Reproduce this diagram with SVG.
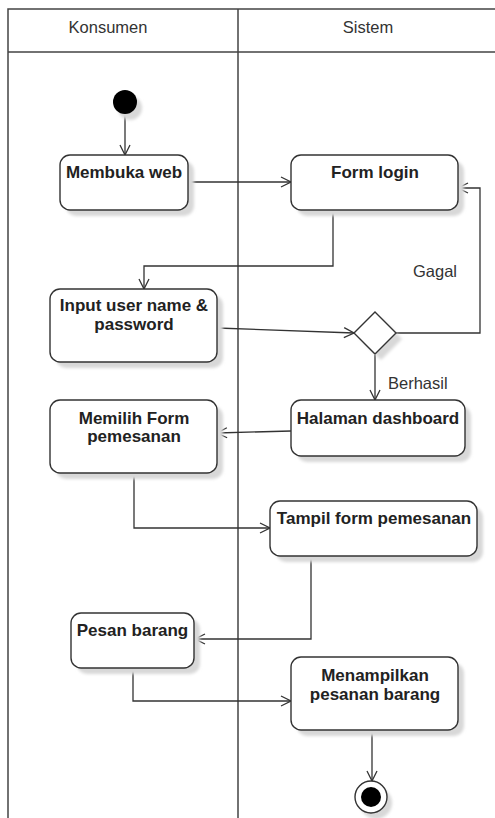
<svg xmlns="http://www.w3.org/2000/svg" width="495" height="818" viewBox="0 0 495 818">
  <defs>
    <marker id="open" viewBox="0 0 12 12" refX="11" refY="6" markerWidth="12" markerHeight="12" markerUnits="userSpaceOnUse" orient="auto">
      <path d="M1,1 L11,6 L1,11" fill="none" stroke="#333" stroke-width="1.3"/>
    </marker>
    <filter id="soft" x="-20%" y="-20%" width="140%" height="140%">
      <feGaussianBlur stdDeviation="1.5"/>
    </filter>
  </defs>
  <style>
    .lane { fill: none; stroke: #444; stroke-width: 1.5; }
    .head { font-family: "Liberation Sans", Arial, sans-serif; font-size: 16.5px; fill: #333; text-anchor: middle; }
    .box { fill: #fff; stroke: #333; stroke-width: 1.4; }
    .shadow { fill: #d8d8d8; filter: url(#soft); }
    .lbl { font-family: "Liberation Sans", Arial, sans-serif; font-size: 17px; font-weight: bold; fill: #222; text-anchor: middle; }
    .guard { font-family: "Liberation Sans", Arial, sans-serif; font-size: 16.5px; fill: #333; }
    .edge { fill: none; stroke: #333; stroke-width: 1.3; marker-end: url(#open); }
  </style>
  <rect width="495" height="818" fill="#fff"/>

  <!-- swimlanes -->
  <g id="lanes">
    <path class="lane" d="M495,9 H8 V818 M8,52 H495 M238,9 V818"/>
    <text class="head" x="108" y="33">Konsumen</text>
    <text class="head" x="368" y="33">Sistem</text>
  </g>

  <!-- connectors -->
  <g id="connectors">
    <path class="edge" d="M125,114 V155"/>
    <path class="edge" d="M188,182 H291"/>
    <path class="edge" d="M333,210 V266 H144 V289"/>
    <path class="edge" d="M217,328 L354,333"/>
    <path class="edge" d="M396,333 H480 V188 H458"/>
    <path class="edge" d="M375,355 V400"/>
    <path class="edge" d="M291,431 L217,433"/>
    <path class="edge" d="M134,473 V528 H270"/>
    <path class="edge" d="M311,556 V639 H195"/>
    <path class="edge" d="M133,668 V701 H291"/>
    <path class="edge" d="M372,730 V781"/>
    <text class="guard" x="413" y="277">Gagal</text>
    <text class="guard" x="388" y="389">Berhasil</text>
  </g>

  <!-- start -->
  <g id="start">
    <circle cx="130" cy="108" r="12" class="shadow"/>
    <circle cx="125" cy="102" r="12" fill="#000"/>
  </g>

  <g id="membuka-web">
    <rect class="shadow" x="66" y="161" width="128" height="55" rx="10"/>
    <rect class="box" x="60" y="155" width="128" height="55" rx="10"/>
    <text class="lbl" x="124" y="178">Membuka web</text>
  </g>

  <g id="form-login">
    <rect class="shadow" x="297" y="161" width="167" height="55" rx="10"/>
    <rect class="box" x="291" y="155" width="167" height="55" rx="10"/>
    <text class="lbl" x="375" y="178">Form login</text>
  </g>

  <g id="input-login">
    <rect class="shadow" x="56" y="295" width="167" height="73" rx="10"/>
    <rect class="box" x="50" y="289" width="167" height="73" rx="10"/>
    <text class="lbl" x="134" y="311">Input user name &amp;</text>
    <text class="lbl" x="134" y="330">password</text>
  </g>

  <g id="decision">
    <path class="shadow" d="M381,318 L402,339 L381,360 L360,339 Z"/>
    <path class="box" d="M375,312 L396,333 L375,354 L354,333 Z"/>
  </g>

  <g id="halaman-dashboard">
    <rect class="shadow" x="297" y="406" width="174" height="56" rx="10"/>
    <rect class="box" x="291" y="400" width="174" height="56" rx="10"/>
    <text class="lbl" x="378" y="424">Halaman dashboard</text>
  </g>

  <g id="memilih-form">
    <rect class="shadow" x="56" y="406" width="167" height="73" rx="10"/>
    <rect class="box" x="50" y="400" width="167" height="73" rx="10"/>
    <text class="lbl" x="134" y="424">Memilih Form</text>
    <text class="lbl" x="134" y="442">pemesanan</text>
  </g>

  <g id="tampil-form">
    <rect class="shadow" x="276" y="507" width="207" height="55" rx="10"/>
    <rect class="box" x="270" y="501" width="207" height="55" rx="10"/>
    <text class="lbl" x="374" y="524">Tampil form pemesanan</text>
  </g>

  <g id="pesan-barang">
    <rect class="shadow" x="77" y="619" width="123" height="55" rx="10"/>
    <rect class="box" x="71" y="613" width="123" height="55" rx="10"/>
    <text class="lbl" x="132.5" y="636">Pesan barang</text>
  </g>

  <g id="menampilkan">
    <rect class="shadow" x="297" y="663" width="167" height="73" rx="10"/>
    <rect class="box" x="291" y="657" width="167" height="73" rx="10"/>
    <text class="lbl" x="375" y="681">Menampilkan</text>
    <text class="lbl" x="375" y="700">pesanan barang</text>
  </g>

  <!-- end -->
  <g id="end">
    <circle cx="376" cy="803" r="16" class="shadow"/>
    <circle cx="371" cy="797" r="16" fill="#fff" stroke="#333" stroke-width="1.4"/>
    <circle cx="371" cy="797" r="10" fill="#000"/>
  </g>
</svg>
